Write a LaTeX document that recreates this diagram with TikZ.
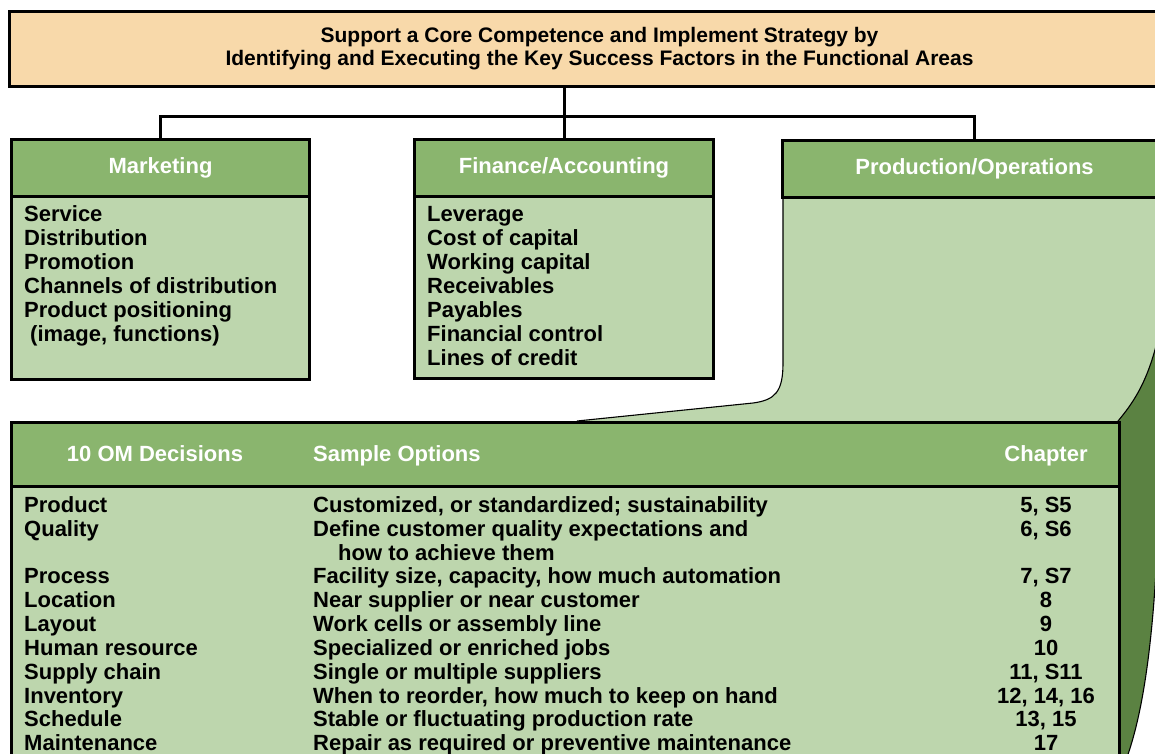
\documentclass[tikz,border=0pt]{standalone}
\usepackage{fontspec}
\setmainfont{Liberation Sans}
\definecolor{peach}{HTML}{F8D9AA}
\definecolor{hdrgreen}{HTML}{8AB56E}
\definecolor{lightgreen}{HTML}{BDD6AD}
\definecolor{darkgreen}{HTML}{5B8242}
\tikzset{
  thickline/.style={line width=3pt},
  thinline/.style={line width=1.1pt},
  hdrbox/.style={draw, thickline, fill=hdrgreen, text=white, anchor=north west, inner sep=0pt},
  bodybox/.style={draw, thickline, fill=lightgreen, anchor=north west, inner sep=0pt},
  itemtext/.style={anchor=base west, inner sep=0pt},
  chaptext/.style={anchor=base, inner sep=0pt},
  conn/.style={thickline}
}
\begin{document}
\begin{tikzpicture}[x=1pt,y=-1pt,font=\bfseries\fontsize{22}{24}\selectfont]
\useasboundingbox (0,0) rectangle (1155,753);
\clip (0,0) rectangle (1155,753);

% top box
\node[draw, thickline, fill=peach, anchor=north west, minimum width=1180, minimum height=75, inner sep=0pt, align=center,
      font=\bfseries\fontsize{21}{23}\selectfont] (top) at (8,10)
  {Support a Core Competence and Implement Strategy by\\Identifying and Executing the Key Success Factors in the Functional Areas};

% production body (paper)
\fill[lightgreen] (783,195) -- (783,363) .. controls (783,392) and (775,400) .. (753,403) -- (577,421)
   -- (1118,421) .. controls (1140,395) and (1152,370) .. (1162,320) -- (1170,195) -- cycle;
\draw[thinline] (783,195) -- (783,363) .. controls (783,392) and (775,400) .. (753,403) -- (577,421);
% dark side
\fill[darkgreen] (1118,421) .. controls (1140,395) and (1152,370) .. (1162,320) -- (1175,320) -- (1175,760) -- (1118,760) -- cycle;
\fill[white] (1162,330) -- (1160,450) .. controls (1158,600) and (1148,700) .. (1126,760) -- (1180,760) -- (1180,330) -- cycle;
\draw[thinline] (1118,421) .. controls (1140,395) and (1152,370) .. (1162,320);
\draw[thinline] (1162,330) -- (1160,450) .. controls (1158,600) and (1148,700) .. (1126,760);

% functional area boxes
\node[hdrbox, minimum width=298, minimum height=57] (mkh) at (10,138) {Marketing};
\node[bodybox, minimum width=298, minimum height=183] (mkb) at (10,195) {};
\node[hdrbox, minimum width=299, minimum height=57] (fah) at (413,138) {Finance/Accounting};
\node[bodybox, minimum width=299, minimum height=182] (fab) at (413,195) {};
\node[hdrbox, minimum width=384, minimum height=57] (poh) at (781,139) {Production/Operations};

% connectors
\coordinate (bus) at (0,116);
\draw[conn] (top.south -| fah.north) -- (fah.north |- bus);
\draw[conn] (mkh.north) -- (mkh.north |- bus) -- (poh.north |- bus) -- (poh.north);
\draw[conn] (fah.north |- bus) -- (fah.north);

% marketing items
\foreach \i/\t/\xx in {0/Service/24, 1/Distribution/24, 2/Promotion/24, 3/Channels of distribution/24,
                     4/Product positioning/24, 5/{(image, functions)}/30}
  \node[itemtext] (mk\i) at (\xx,221+24*\i) {\t};

% finance items
\foreach \i/\t in {0/Leverage, 1/Cost of capital, 2/Working capital, 3/Receivables,
                   4/Payables, 5/Financial control, 6/Lines of credit}
  \node[itemtext] (fa\i) at (427,221+24*\i) {\t};

% OM table
\node[hdrbox, minimum width=1108, minimum height=64] (th) at (10,421) {};
\node[bodybox, minimum width=1108, minimum height=340] (tb) at (10,485) {};
\node[text=white, inner sep=0pt, anchor=base] (h1) at (155,461) {10 OM Decisions};
\node[text=white, inner sep=0pt, anchor=base west] (h2) at (313,461) {Sample Options};
\node[text=white, inner sep=0pt, anchor=base] (h3) at (1046,461) {Chapter};

\foreach \i/\a/\b/\c/\y in {
   1/Product/{Customized, or standardized; sustainability}/{5, S5}/504,
   2/Quality/{Define customer quality expectations and}/{6, S6}/528,
   3/Process/{Facility size, capacity, how much automation}/{7, S7}/575,
   4/Location/{Near supplier or near customer}/8/599,
   5/Layout/{Work cells or assembly line}/9/623,
   6/Human resource/{Specialized or enriched jobs}/10/647,
   7/Supply chain/{Single or multiple suppliers}/{11, S11}/671,
   8/Inventory/{When to reorder, how much to keep on hand}/{12, 14, 16}/695,
   9/Schedule/{Stable or fluctuating production rate}/{13, 15}/718,
   10/Maintenance/{Repair as required or preventive maintenance}/17/742}
{
  \node[itemtext] (dec\i) at (24,\y+8) {\a};
  \node[itemtext] (opt\i) at (313,\y+8) {\b};
  \node[chaptext] (chp\i) at (1046,\y+8) {\c};
}
\node[itemtext] (opt2b) at (338,560) {how to achieve them};
\end{tikzpicture}
\end{document}
